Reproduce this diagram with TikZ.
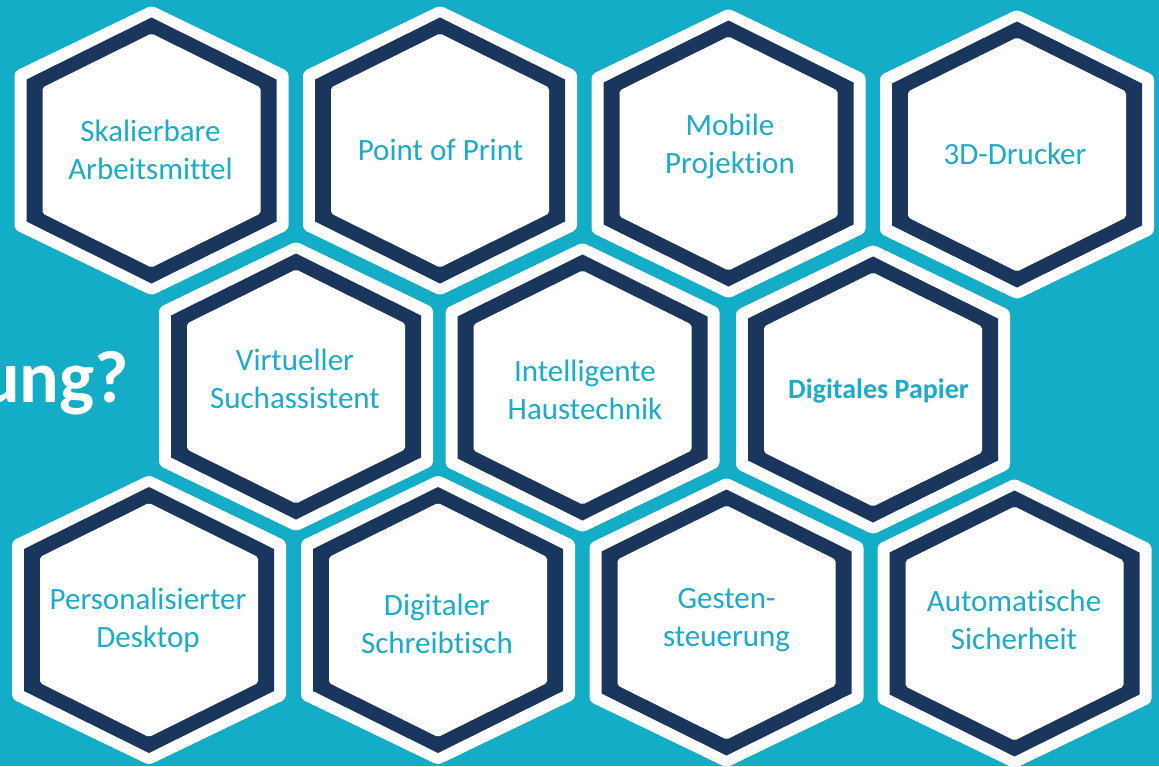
\documentclass[tikz,border=0pt]{standalone}
\usepackage{fontspec}
\setmainfont{Carlito}[Ligatures=NoCommon]
\definecolor{bgteal}{RGB}{20,173,199}
\definecolor{txteal}{RGB}{26,172,200}
\definecolor{navyblue}{RGB}{27,54,93}
\tikzset{
  hexa/.pic={
    \fill[white, rounded corners=4pt] (0,-145) -- (137,-79) -- (137,79) -- (0,145) -- (-137,79) -- (-137,-79) -- cycle;
    \fill[navyblue] (0,-133) -- (125,-71) -- (125,71) -- (0,133) -- (-125,71) -- (-125,-71) -- cycle;
    \fill[white, rounded corners=2pt] (0,-117) -- (109,-63) -- (109,63) -- (0,117) -- (-109,63) -- (-109,-63) -- cycle;
  },
  lbl/.style={text=txteal, align=center, inner sep=0pt, font=\fontsize{31}{38}\selectfont},
  lblb/.style={text=txteal, align=center, inner sep=0pt, font=\fontsize{28}{34}\selectfont\bfseries},
  titletext/.style={text=white, inner sep=0pt, font=\fontsize{74}{88}\selectfont\bfseries}
}
\begin{document}
\begin{tikzpicture}[x=1pt,y=-1pt]
\fill[bgteal] (0,0) rectangle (1159,766);
\useasboundingbox (0,0) rectangle (1159,766);
\clip (0,0) rectangle (1159,766);

\node[titletext, anchor=base east] (title) at (129,402) {ung?};

% row 1
\pic at (151.5,150.5) {hexa};
\pic at (440,150.5) {hexa};
\pic at (728.5,153.5) {hexa};
\pic at (1017,154.5) {hexa};
% row 2
\pic at (296,386.5) {hexa};
\pic at (582.5,387.5) {hexa};
\pic at (873,389.5) {hexa};
% row 3
\pic at (149,620) {hexa};
\pic at (438,620) {hexa};
\pic at (726.5,622.5) {hexa};
\pic at (1014.5,623.5) {hexa};

\node[lbl] (skal) at (150.5,150) {Skalierbare\\Arbeitsmittel};
\node[lbl] (pop) at (440.5,150) {Point of Print};
\node[lbl] (mob) at (730,146) {Mobile\\Projektion};
\node[lbl] (drei) at (1015,153.5) {3D-Drucker};
\node[lbl] (virt) at (295,379) {Virtueller\\Suchassistent};
\node[lbl] (intel) at (585,390) {Intelligente\\Haustechnik};
\node[lblb] (papier) at (878.5,391) {Digitales Papier};
\node[lbl] (pers) at (148,620) {Personalisierter\\Desktop};
\node[lbl] (tisch) at (437,623.5) {Digitaler\\Schreibtisch};
\node[lbl] (gest) at (726.5,620) {Gesten-\\steuerung};
\node[lbl] (auto) at (1014,620) {Automatische\\Sicherheit};
\end{tikzpicture}
\end{document}
